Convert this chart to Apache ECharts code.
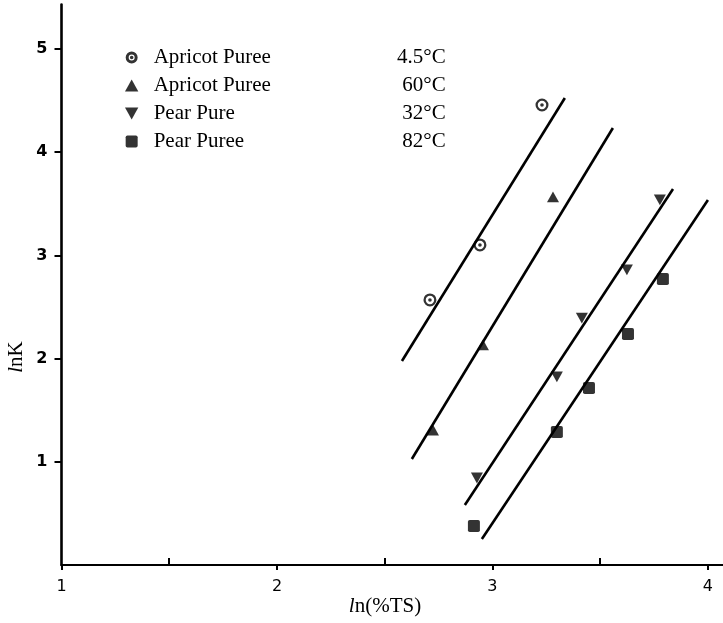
<!DOCTYPE html>
<html>
<head>
    <meta charset="utf-8">
    <title>lnK vs ln(%TS)</title>
    <script src="https://cdn.jsdelivr.net/npm/echarts@6.0.0/dist/echarts.min.js"></script>
    <style>
      body, html { margin: 0; padding: 0; background: #fff; }
      #main { width: 723px; height: 623px; }
    </style>
</head>
<body>
  <div id="main"></div>
  <script type="text/javascript">
    // legend entries: product | temperature
    var products = ['Apricot Puree', 'Apricot Puree', 'Pear Pure', 'Pear Puree'];
    var temps = ['4.5°C', '60°C', '32°C', '82°C'];

    // measured points, ln(%TS) and lnK
    var apricot45X = [2.71, 2.942, 3.23];
    var apricot45Y = [2.568, 3.101, 4.457];
    var apricot60X = [2.724, 2.956, 3.281];
    var apricot60Y = [1.308, 2.132, 3.566];
    var pear32X = [2.928, 3.299, 3.415, 3.624, 3.777];
    var pear32Y = [0.843, 1.822, 2.393, 2.859, 3.537];
    var pear82X = [2.914, 3.299, 3.448, 3.629, 3.791];
    var pear82Y = [0.378, 1.289, 1.715, 2.238, 2.771];

    // fitted lines, start and end
    var fitX = [[2.58, 3.336], [2.626, 3.559], [2.872, 3.838], [2.951, 4.0]];
    var fitY = [[1.977, 4.525], [1.027, 4.234], [0.581, 3.643], [0.252, 3.537]];

    var xTicks = [1, 2, 3, 4];
    var yTicks = [1, 2, 3, 4, 5];

    var icons = [
      'path://M0,-10A10,10 0 1,1 0,10A10,10 0 1,1 0,-10Z M0,-6.5A6.5,6.5 0 1,0 0,6.5A6.5,6.5 0 1,0 0,-6.5Z M0,-2.8A2.8,2.8 0 1,1 0,2.8A2.8,2.8 0 1,1 0,-2.8Z',
      'path://M5,0L10,9L0,9Z',
      'path://M0,0L10,0L5,9Z',
      'path://M1.5,0L8.5,0Q10,0 10,1.5L10,8.5Q10,10 8.5,10L1.5,10Q0,10 0,8.5L0,1.5Q0,0 1.5,0Z'
    ];
    // the legend's circle is printed bolder than the plotted ones
    var legendIcons = icons.slice();
    legendIcons[0] = 'path://M0,-10A10,10 0 1,1 0,10A10,10 0 1,1 0,-10Z M0,-5A5,5 0 1,0 0,5A5,5 0 1,0 0,-5Z M0,-3A3,3 0 1,1 0,3A3,3 0 1,1 0,-3Z';

    function pairs(xs, ys) {
      return xs.map(function (x, i) { return [x, ys[i]]; });
    }

    var pointSets = [
      pairs(apricot45X, apricot45Y),
      pairs(apricot60X, apricot60Y),
      pairs(pear32X, pear32Y),
      pairs(pear82X, pear82Y)
    ];
    var sizes = [13, 12, 12, 12];
    var names = products.map(function (p, i) { return p + '|' + temps[i]; });

    var series = [];
    pointSets.forEach(function (pts, i) {
      series.push({
        name: names[i],
        type: 'scatter',
        xAxisIndex: 0,
        symbol: icons[i],
        symbolKeepAspect: true,
        symbolSize: sizes[i],
        itemStyle: { color: '#000' },
        data: pts,
        z: 3
      });
    });
    fitX.forEach(function (fx, i) {
      series.push({
        name: 'fit' + i,
        type: 'line',
        xAxisIndex: 0,
        showSymbol: false,
        symbol: 'none',
        lineStyle: { color: '#000', width: 2.6 },
        data: pairs(fx, fitY[i]),
        silent: true,
        z: 2
      });
    });

    var serif = '"Liberation Serif", "DejaVu Serif", serif';
    var sans = '"DejaVu Sans", "Liberation Sans", sans-serif';

    var myChart = echarts.init(document.getElementById('main'));
    var option = {
      backgroundColor: '#fff',
      animation: false,
      grid: { left: 61.5, right: 0, top: 4.6, bottom: 58 },
      legend: {
        orient: 'vertical',
        left: 120,
        top: 42,
        itemWidth: 34,
        itemHeight: 12,
        itemGap: 7,
        selectedMode: false,
        data: names.map(function (n, i) { return { name: n, icon: legendIcons[i] }; }),
        itemStyle: { color: '#000' },
        formatter: function (name) {
          var parts = name.split('|');
          return '{n|' + parts[0] + '}{t|' + parts[1] + '}';
        },
        textStyle: {
          rich: {
            n: { width: 236, fontSize: 21, fontFamily: serif, color: '#000' },
            t: { width: 56, align: 'right', fontSize: 21, fontFamily: serif, color: '#000' }
          }
        }
      },
      xAxis: [{
        type: 'value',
        min: 1,
        max: 4.07,
        interval: 1,
        position: 'bottom',
        axisLine: { lineStyle: { color: '#000', width: 2.2 } },
        axisTick: { show: true, inside: false, length: 5, customValues: xTicks, lineStyle: { color: '#000', width: 2 } },
        axisLabel: {
          margin: 14, color: '#000', fontSize: 16, fontFamily: sans,
          customValues: xTicks,
          showMinLabel: true,
          showMaxLabel: true
        },
        splitLine: { show: false }
      }, {
        type: 'value',
        min: 1,
        max: 4.07,
        interval: 1,
        position: 'bottom',
        axisLine: { show: false },
        axisTick: { show: false, inside: true },
        minorTick: { show: true, splitNumber: 2, length: 7, lineStyle: { color: '#000', width: 2 } },
        axisLabel: { show: false },
        splitLine: { show: false }
      }],
      yAxis: {
        type: 'value',
        min: 0,
        max: 5.43,
        interval: 1,
        axisLine: { lineStyle: { color: '#000', width: 2.6 } },
        axisTick: { show: true, inside: false, length: 7, customValues: yTicks, lineStyle: { color: '#000', width: 2 } },
        axisLabel: {
          margin: 14, color: '#000', fontSize: 16, fontWeight: 'bold', fontFamily: sans,
          customValues: yTicks,
          showMinLabel: true,
          showMaxLabel: true
        },
        splitLine: { show: false }
      },
      graphic: [{
        type: 'text',
        x: 16,
        y: 357,
        rotation: Math.PI / 2,
        style: {
          text: '{i|l}nK',
          fill: '#000',
          font: '21px ' + serif,
          align: 'center',
          verticalAlign: 'middle',
          rich: { i: { fontStyle: 'italic', fontSize: 21, fontFamily: serif } }
        }
      }, {
        type: 'text',
        x: 385,
        y: 606,
        style: {
          text: '{i|l}n(%TS)',
          fill: '#000',
          font: '21px ' + serif,
          align: 'center',
          verticalAlign: 'middle',
          rich: { i: { fontStyle: 'italic', fontSize: 21, fontFamily: serif } }
        }
      }],
      series: series
    };
    myChart.setOption(option);
  </script>
</body>
</html>
